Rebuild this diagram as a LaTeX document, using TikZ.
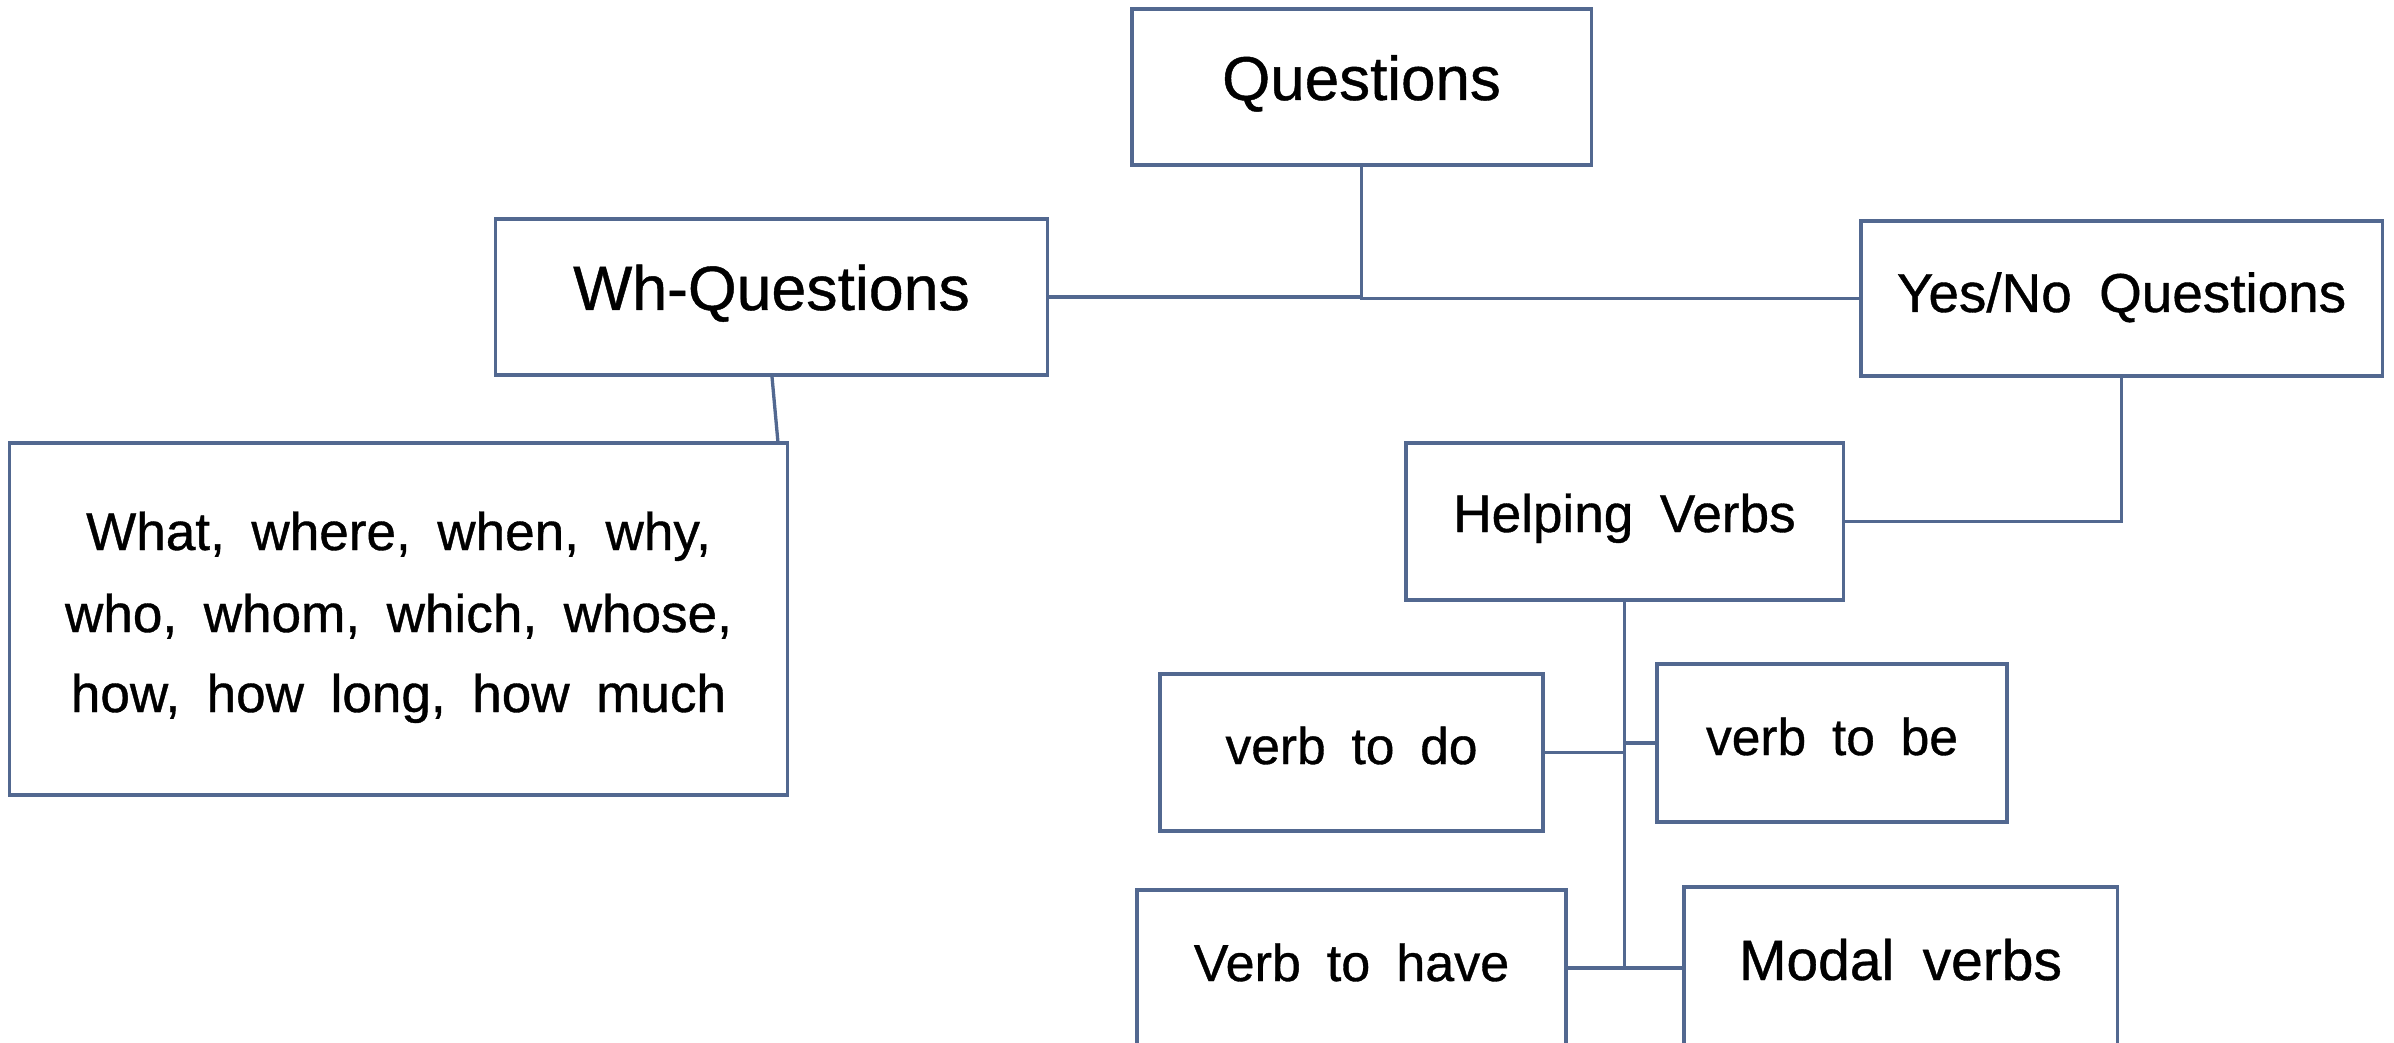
\documentclass[tikz,border=0pt]{standalone}
\usepackage{fontspec}
\setmainfont[WordSpace=1.8, FakeBold=0.7]{Liberation Sans}
\definecolor{lc}{RGB}{82,104,144}
\tikzset{
  box/.style={draw=lc, line width=0.033cm, rectangle, inner sep=0pt},
  lbl/.style={inner sep=0pt, anchor=base, text=black},
  conn/.style={draw=lc, line width=0.033cm},
}
\newcommand{\fs}[1]{\fontsize{#1}{1.2\dimexpr #1pt\relax}\selectfont}
\begin{document}
\begin{tikzpicture}[x=0.01cm, y=-0.01cm]
\useasboundingbox (0,0) rectangle (2394,1043);
% boxes
\node[box, minimum width=4.59cm, minimum height=1.56cm] (q) at (1361.5,87) {};
\node[box, minimum width=5.51cm, minimum height=1.56cm] (wh) at (771.5,297) {};
\node[box, minimum width=5.21cm, minimum height=1.55cm] (yn) at (2121.5,298.5) {};
\node[box, minimum width=7.77cm, minimum height=3.52cm] (what) at (398.5,619) {};
\node[box, minimum width=4.37cm, minimum height=1.57cm] (hv) at (1624.5,521.5) {};
\node[box, minimum width=3.83cm, minimum height=1.57cm] (do) at (1351.5,752.5) {};
\node[box, minimum width=3.50cm, minimum height=1.58cm] (be) at (1832,743) {};
\node[box, minimum width=4.29cm, minimum height=1.56cm] (have) at (1351.5,968) {};
\node[box, minimum width=4.33cm, minimum height=1.62cm] (modal) at (1900.5,968) {};
% texts
\node[lbl, font=\fs{17.6}] (qt) at (1361.5,100) {Questions};
\node[lbl, font=\fs{17.8}] (wht) at (771.5,310) {Wh-Questions};
\node[lbl, font=\fs{15.6}] (ynt) at (2121.5,312) {Yes/No Questions};
\node[lbl, font=\fs{15.1}] (w1) at (398.5,550) {What, where, when, why,};
\node[lbl, font=\fs{15.1}] (w2) at (398.5,632) {who, whom, which, whose,};
\node[lbl, font=\fs{15.1}] (w3) at (398.5,712) {how, how long, how much};
\node[lbl, font=\fs{15.1}] (hvt) at (1624.5,532) {Helping Verbs};
\node[lbl, font=\fs{14.65}] (dot) at (1351.5,764) {verb to do};
\node[lbl, font=\fs{14.65}] (bet) at (1832,755) {verb to be};
\node[lbl, font=\fs{14.8}] (havet) at (1351.5,981) {Verb to have};
\node[lbl, font=\fs{16.2}] (modalt) at (1900.5,980) {Modal verbs};
% connectors
\draw[conn] (q.south) |- (wh.east);
\draw[conn] (q.south) |- (yn.west);
\draw[conn] ([xshift=0.005cm]wh.south) -- ([xshift=-0.11cm]what.north east);
\draw[conn] (yn.south) |- (hv.east);
\coordinate (tend) at (hv.south |- have.east);
\draw[conn] (hv.south) -- (tend);
\draw[conn] (do.east) -- (do.east -| hv.south);
\draw[conn] (be.west) -- (be.west -| hv.south);
\draw[conn] (have.east) -- (tend);
\draw[conn] (modal.west) -- (tend);
\end{tikzpicture}
\end{document}
